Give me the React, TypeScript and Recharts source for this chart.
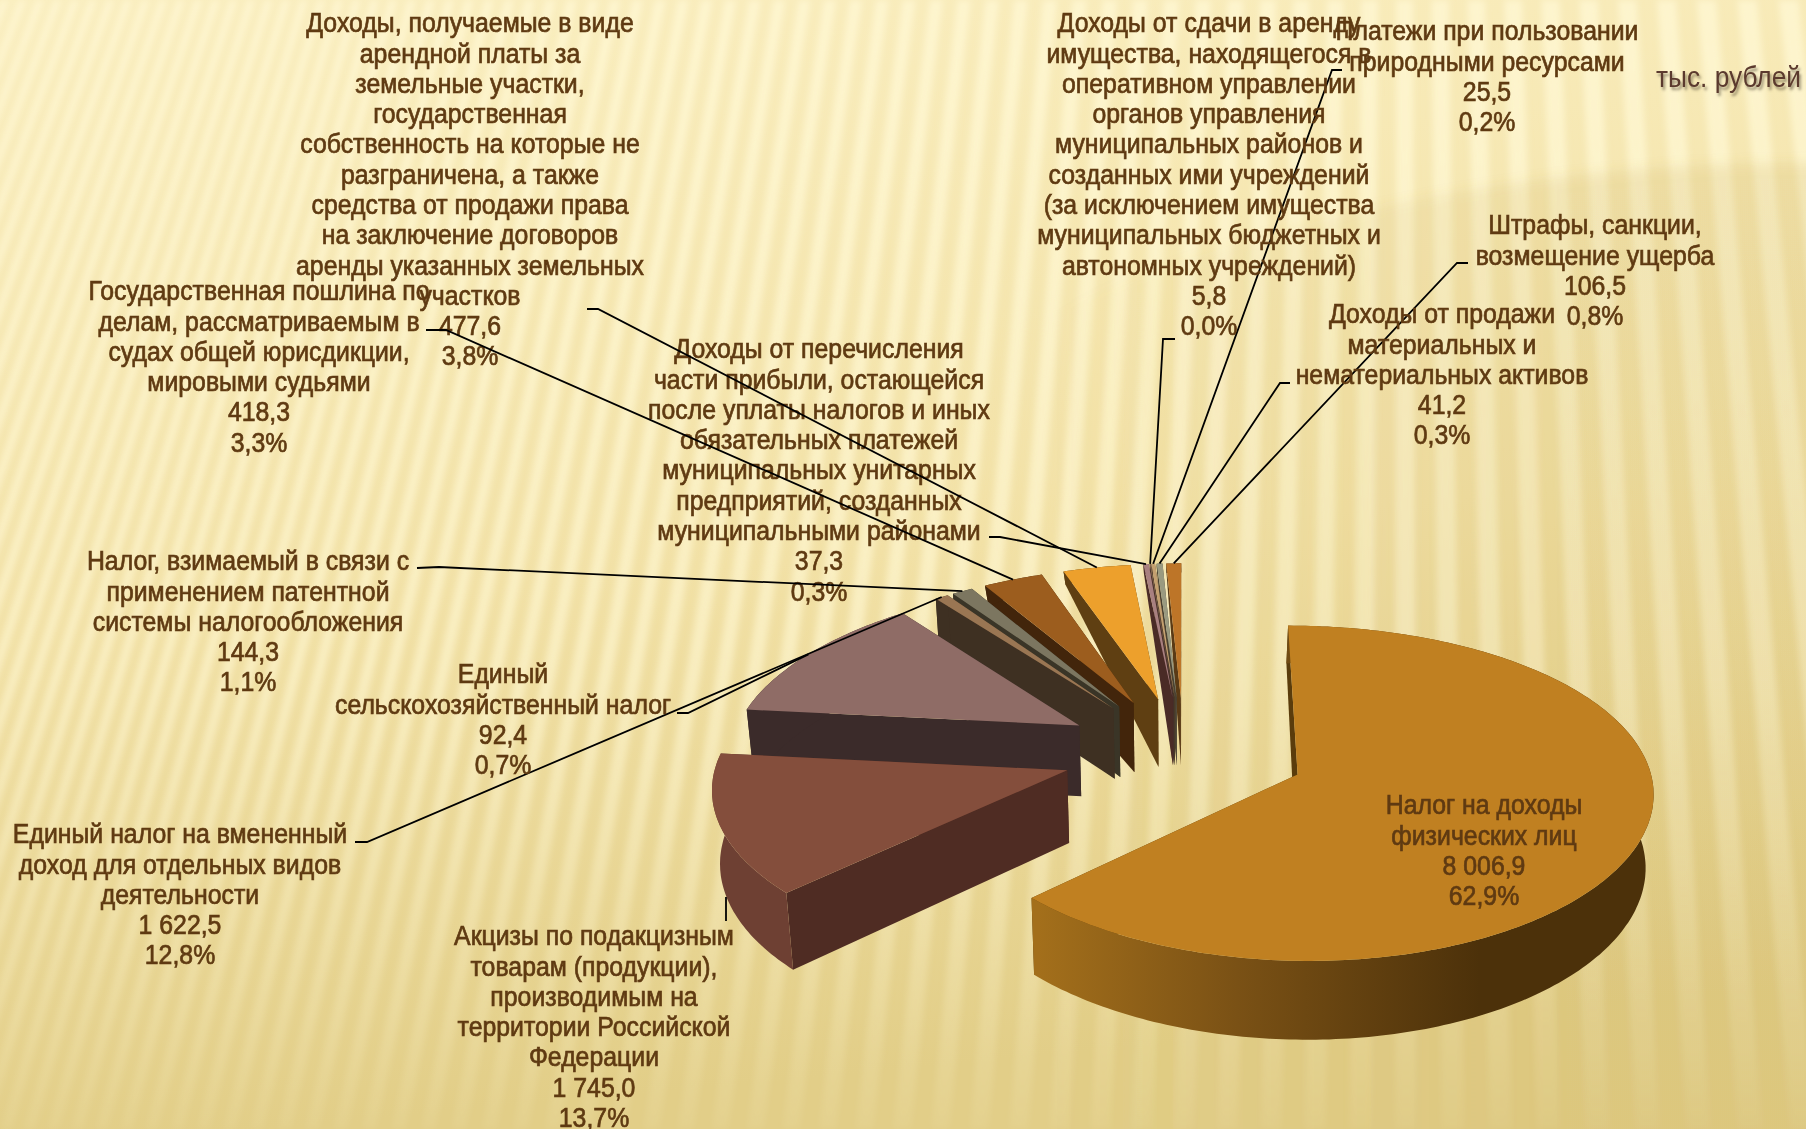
import { Pie, PieChart } from "recharts"

const WIDTH = 1806
const HEIGHT = 1129

// Order is the chart's own, clockwise from 12 o'clock.
const SLICE_VALUES = [8006.9, 1745.0, 1622.5, 92.4, 144.3, 418.3, 477.6, 37.3, 5.8, 25.5, 41.2, 106.5]
const VALUE_TEXT = ["8 006,9", "1 745,0", "1 622,5", "92,4", "144,3", "418,3", "477,6", "37,3", "5,8", "25,5", "41,2", "106,5"]
const SHARE_TEXT = ["62,9%", "13,7%", "12,8%", "0,7%", "1,1%", "3,3%", "3,8%", "0,3%", "0,0%", "0,2%", "0,3%", "0,8%"]
const SLICE_NAMES = [
  ["Налог на доходы", "физических лиц"],
  ["Акцизы по подакцизным", "товарам (продукции),", "производимым на", "территории Российской", "Федерации"],
  ["Единый налог на вмененный", "доход для отдельных видов", "деятельности"],
  ["Единый", "сельскохозяйственный налог"],
  ["Налог, взимаемый в связи с", "применением патентной", "системы налогообложения"],
  ["Государственная пошлина по", "делам, рассматриваемым в", "судах общей юрисдикции,", "мировыми судьями"],
  ["Доходы, получаемые в виде", "арендной платы за", "земельные участки,", "государственная", "собственность на которые не", "разграничена, а также", "средства от продажи права", "на заключение договоров", "аренды указанных земельных", "участков"],
  ["Доходы от перечисления", "части прибыли, остающейся", "после уплаты налогов и иных", "обязательных платежей", "муниципальных унитарных", "предприятий, созданных", "муниципальными районами"],
  ["Доходы от сдачи в аренду", "имущества, находящегося в", "оперативном управлении", "органов управления", "муниципальных районов и", "созданных ими учреждений", "(за исключением имущества", "муниципальных бюджетных и", "автономных учреждений)"],
  ["Платежи при пользовании", "природными ресурсами"],
  ["Доходы от продажи", "материальных и", "нематериальных активов"],
  ["Штрафы, санкции,", "возмещение ущерба"],
]

const TOP_COLORS = ["#C08021", "#844E3C", "#8F6C66", "#9A7653", "#7C7660", "#9C5D1E", "#EDA02C", "#A88080", "#8A6A50", "#C4A070", "#9A9A80", "#BD7528"]
const SIDE_COLORS = ["#5A3C0C", "#4F2C23", "#3B2B2A", "#3E3022", "#3A3527", "#42250B", "#5F3F12", "#4A2B26", "#45302A", "#4A3A28", "#4A4232", "#5A3A15"]
const WALL_COLORS = ["url(#mainWall)", "#6E4033", "#3B2B2A", "#3E3022", "#3A3527", "#42250B", "#5F3F12", "#4A2B26", "#45302A", "#4A3A28", "#4A4232", "#5A3A15"]

const LABEL_CENTERS = [
  [1484, 805], [594, 936], [180, 834], [503, 674], [248, 561], [259, 291],
  [470, 23], [819, 349], [1209, 23], [1487, 31], [1442, 314], [1595, 225],
]
// label-side points of each leader; the slice end comes from the projection
const LEADER_STARTS: (number[][] | null)[] = [
  null,
  [[726, 921], [726, 897]],
  [[677, 713], [688, 713]],
  [[355, 842], [367, 842]],
  [[417, 568], [439, 567]],
  [[426, 330], [446, 330]],
  [[587, 309], [598, 309]],
  [[989, 537], [1000, 537]],
  [[1175, 339], [1163, 339]],
  [[1342, 70], [1332, 70]],
  [[1290, 383], [1280, 383]],
  [[1468, 263], [1457, 263]],
]

// drawn back to front, so the table runs against the clock
const rows = SLICE_VALUES.map((value, slot) => ({ slot, value, name: SLICE_NAMES[slot].join(" ") })).reverse()

const EXPLODE = 0.35
const TILT = 0.46
const TEXT_COLOR = "#5F3A12"
const LINE_STEP = 30.27
const FONT = "'Liberation Sans', Arial, sans-serif"

function project(cx: number, cy: number, R: number, X: number, Y: number, slot: number, lower = false) {
  const wy = 1 / (1 - 0.11 * Y)
  const farPinch = slot === 0 || Y > 0 ? 0 : (0.07 * Y * Y) / (Math.abs(Y) + 0.1)
  const wx = 1 / (1 - 0.09 * Y + farPinch)
  let x = cx + R * X * wx
  let y = cy + R * TILT * Y * wy
  if (lower) {
    x = cx + (x - cx) * 0.983
    // on the main slice and the far slices the wall pinches out toward the rim
    const collapse = slot === 0 || slot >= 5
    y += Y > -0.3 || !collapse ? 72 + 6 * Y : 70.2 + (Y + 0.3) * 58
  }
  return [x, y]
}

function rad(d: number) {
  return (d * Math.PI) / 180
}

function sliceGeometry(p: any) {
  const slot = p.payload?.slot ?? p.slot
  const a1 = 90 - p.startAngle
  const a2 = 90 - p.endAngle
  const mid = (a1 + a2) / 2
  const ax = EXPLODE * Math.sin(rad(mid))
  const ay = -EXPLODE * Math.cos(rad(mid))
  const at = (deg: number, r: number, lower = false) =>
    project(p.cx, p.cy, p.outerRadius, ax + r * Math.sin(rad(deg)), ay - r * Math.cos(rad(deg)), slot, lower)
  return { a1, a2, mid, at, slot }
}

function toPath(points: number[][]) {
  return "M" + points.map((q) => `${q[0].toFixed(1)},${q[1].toFixed(1)}`).join("L") + "Z"
}

function Slice3D(props: any) {
  const { a1, a2, at, slot } = sliceGeometry(props)
  const steps = Math.max(2, Math.ceil(Math.abs(a2 - a1)))
  const upper: number[][] = []
  const lowerArc: number[][] = []
  for (let i = 0; i <= steps; i++) {
    const d = a1 + ((a2 - a1) * i) / steps
    upper.push(at(d, 1))
    lowerArc.push(at(d, 1, true))
  }
  const apex = at(0, 0)
  const apexLow = at(0, 0, true)
  const side = SIDE_COLORS[slot]
  return (
    <g>
      <path d={toPath([apex, upper[0], lowerArc[0], apexLow])} fill={side} />
      <path d={toPath([apex, upper[steps], lowerArc[steps], apexLow])} fill={side} />
      <path d={toPath([...upper, ...[...lowerArc].reverse()])} fill={WALL_COLORS[slot]} />
      <path d={toPath([apex, ...upper])} fill={TOP_COLORS[slot]} />
    </g>
  )
}

function SliceLabel(props: any) {
  const { mid, at, slot } = sliceGeometry(props)
  const [x, y] = LABEL_CENTERS[slot]
  const lines = [...SLICE_NAMES[slot], VALUE_TEXT[slot], SHARE_TEXT[slot]]
  const start = LEADER_STARTS[slot]
  // the excise leader only shows a short stub before it runs behind its slice
  const leader = start ? (slot === 1 ? start : [...start, at(mid, 1)]) : null
  return (
    <g>
      {leader && (
        <polyline
          points={leader.map((q) => q.join(",")).join(" ")}
          fill="none"
          stroke="#000"
          strokeWidth={1.8}
        />
      )}
      <g transform={`translate(${x} 0) scale(0.92 1)`}>
        {lines.map((line, i) => (
          <text
            key={i}
            x={0}
            y={y + i * LINE_STEP}
            textAnchor="middle"
            dominantBaseline="central"
            fontFamily={FONT}
            fontSize={27}
            fill={TEXT_COLOR}
            stroke={TEXT_COLOR}
            strokeWidth={0.7}
          >
            {line}
          </text>
        ))}
      </g>
    </g>
  )
}

function Backdrop() {
  // fan of soft stripes running to a point far above the slide
  const stripes = []
  let bottom = -900
  let i = 0
  while (bottom < 2100) {
    const w = 11 + Math.max(0, bottom) * 0.008
    const vx = 1400
    const vy = -3600
    const xTop = (b: number) => vx + ((b - vx) * (0 - vy)) / (HEIGHT - vy)
    stripes.push(
      <polygon
        key={i}
        points={`${xTop(bottom)},0 ${xTop(bottom + w)},0 ${bottom + w},${HEIGHT} ${bottom},${HEIGHT}`}
        fill="#FFF8D6"
        opacity={0.72}
      />,
    )
    bottom += w * 2.1
    i++
  }
  return (
    <svg width={WIDTH} height={HEIGHT} style={{ position: "absolute", left: 0, top: 0 }}>
      <defs>
        <linearGradient id="paper" x1="0" y1="0" x2="0.15" y2="1">
          <stop offset="0%" stopColor="#FAEEBF" />
          <stop offset="55%" stopColor="#F2E1A6" />
          <stop offset="100%" stopColor="#E2CE88" />
        </linearGradient>
        <linearGradient id="fadeOut" x1="0" y1="0" x2="0" y2="1">
          <stop offset="0%" stopColor="#fff" stopOpacity={1} />
          <stop offset="60%" stopColor="#fff" stopOpacity={0.8} />
          <stop offset="100%" stopColor="#fff" stopOpacity={0.12} />
        </linearGradient>
        <linearGradient id="patch" gradientUnits="userSpaceOnUse" x1="1050" y1="0" x2="1560" y2="0">
          <stop offset="0%" stopColor="#BFA04A" stopOpacity={0} />
          <stop offset="100%" stopColor="#BFA04A" stopOpacity={0.14} />
        </linearGradient>
        <mask id="stripeMask">
          <rect width={WIDTH} height={HEIGHT} fill="url(#fadeOut)" />
        </mask>
        <filter id="soft" x="-5%" y="-5%" width="110%" height="110%">
          <feGaussianBlur stdDeviation="3" />
        </filter>
        <filter id="softer" x="-20%" y="-20%" width="140%" height="140%">
          <feGaussianBlur stdDeviation="6" />
        </filter>
      </defs>
      <rect width={WIDTH} height={HEIGHT} fill="url(#paper)" />
      <g mask="url(#stripeMask)">
        <g filter="url(#soft)">{stripes}</g>
      </g>
      <ellipse cx={1806} cy={963} rx={1300} ry={800} fill="url(#patch)" filter="url(#softer)" />
    </svg>
  )
}

export default function App() {
  return (
    <div style={{ position: "absolute", left: 0, top: 0, width: WIDTH, height: HEIGHT, overflow: "hidden" }}>
      <Backdrop />
      <div style={{ position: "absolute", left: 0, top: 0 }}>
        <PieChart width={WIDTH} height={HEIGHT} margin={{ top: 0, right: 0, bottom: 0, left: 0 }}>
          <defs>
            <linearGradient id="mainWall" gradientUnits="userSpaceOnUse" x1="1038" y1="0" x2="1480" y2="0">
              <stop offset="0%" stopColor="#A36F1B" />
              <stop offset="45%" stopColor="#7A5115" />
              <stop offset="100%" stopColor="#4C310A" />
            </linearGradient>
          </defs>
          <Pie
            data={rows}
            dataKey="value"
            nameKey="name"
            cx={1184}
            cy={752}
            innerRadius={0}
            outerRadius={349}
            startAngle={90}
            endAngle={450}
            stroke="none"
            shape={Slice3D}
            label={SliceLabel}
            labelLine={false}
            isAnimationActive={false}
          />
        </PieChart>
      </div>
      <div
        style={{
          position: "absolute",
          right: 5,
          top: 61,
          fontFamily: FONT,
          fontSize: 29,
          color: "#5B3A2E",
          textShadow: "2px 3px 3px rgba(70,60,40,0.55)",
          transform: "scaleX(0.906)",
          transformOrigin: "right center",
        }}
      >
        тыс. рублей
      </div>
    </div>
  )
}
